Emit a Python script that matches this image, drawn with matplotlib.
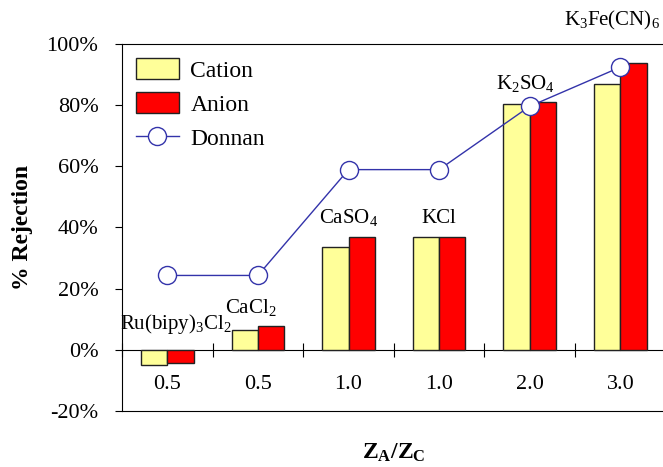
import numpy as np
import matplotlib
matplotlib.use('Agg')
import matplotlib.pyplot as plt
from matplotlib.patches import Patch
from matplotlib.lines import Line2D

plt.rcParams['font.family'] = 'Liberation Serif'
plt.rcParams['mathtext.fontset'] = 'custom'
plt.rcParams['mathtext.rm'] = 'Liberation Serif'
plt.rcParams['mathtext.it'] = 'Liberation Serif:italic'
plt.rcParams['mathtext.bf'] = 'Liberation Serif:bold'

# data
ratios = ['0.5', '0.5', '1.0', '1.0', '2.0', '3.0']
salts = [r'Ru(bipy)$_3$Cl$_2$', r'CaCl$_2$', r'CaSO$_4$', 'KCl',
         r'K$_2$SO$_4$', r'K$_3$Fe(CN)$_6$']
cation = [-5.1, 6.6, 33.7, 37.0, 80.4, 87.0]
anion = [-4.4, 7.8, 37.0, 37.0, 81.0, 93.8]
donnan = [24.3, 24.3, 58.9, 58.9, 79.6, 92.4]

yellow = '#FFFF99'
red = '#FF0000'
blue = '#3333AA'

fig = plt.figure(figsize=(6.63, 4.67), dpi=100)
ax = fig.add_axes([0.184, 0.12, 0.82, 0.786])

x = np.arange(len(ratios))
w = 0.29
ax.bar(x - w/2, cation, w, color=yellow, edgecolor='#222222', linewidth=1, zorder=2)
ax.bar(x + w/2, anion, w, color=red, edgecolor='#222222', linewidth=1, zorder=2)
ax.plot(x, donnan, '-o', color=blue, lw=1, ms=13, mfc='white', mec=blue, mew=1, zorder=3)

ax.set_xlim(-0.5, len(ratios) - 0.5)
ax.set_ylim(-20, 100)
ax.set_yticks(np.arange(-20, 101, 20))
ax.set_yticklabels([f'{v}%' for v in range(-20, 101, 20)])
ax.tick_params(axis='y', labelsize=16, direction='out', length=5, pad=12)
ax.set_xticks([])
ax.spines['right'].set_visible(False)

# category axis crossing at 0%
sec = ax.secondary_xaxis(20 / 120)
sec.set_xticks(np.arange(len(ratios) + 1) - 0.5)
sec.set_xticklabels([])
sec.tick_params(axis='x', which='major', direction='inout', length=10)
sec.set_xticks(x, minor=True)
sec.set_xticklabels(ratios, minor=True)
sec.tick_params(axis='x', which='minor', length=0, pad=18, labelsize=16)

# salt labels
offsets = [10, 6, 6, 6, 6, 22]
dx = [6, -5, 0, 0, -3, -6]
for i, s in enumerate(salts):
    top = max(0, cation[i], anion[i])
    ax.annotate(s, xy=(i, top), xytext=(dx[i], offsets[i]), textcoords='offset points',
                ha='center', va='bottom', fontsize=15, annotation_clip=False)

ax.set_ylabel('% Rejection', fontsize=17, fontweight='bold', labelpad=10)
ax.set_xlabel(r'$\mathbf{Z_A/Z_C}$', fontsize=17, labelpad=22)

handles = [Patch(facecolor=yellow, edgecolor='#222222', label='Cation'),
           Patch(facecolor=red, edgecolor='#222222', label='Anion'),
           Line2D([], [], color=blue, lw=1, marker='o', ms=13, mfc='white', mec=blue, label='Donnan')]
ax.legend(handles=handles, loc='upper left', frameon=False, fontsize=17,
          handlelength=1.8, handleheight=1.0, handletextpad=0.5,
          labelspacing=0.45, borderaxespad=0.3, borderpad=0.3)

fig.savefig('out.png', dpi=100)
